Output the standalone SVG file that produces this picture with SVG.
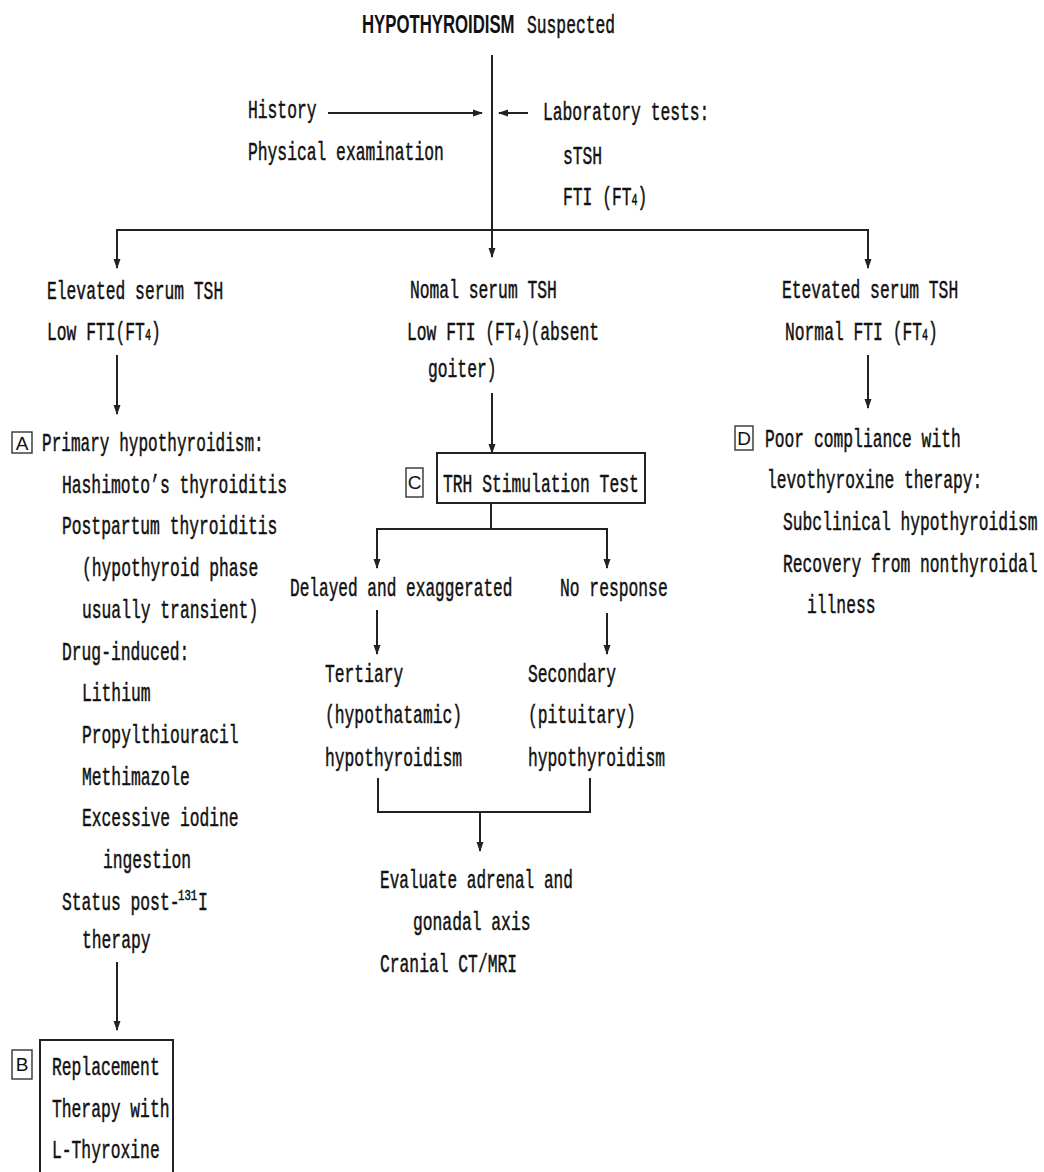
<svg xmlns="http://www.w3.org/2000/svg" width="1044" height="1172" viewBox="0 0 1044 1172">
  <style>
    .t { font-family: "Liberation Mono", "DejaVu Sans Mono", monospace; font-size: 26px; fill: #111; stroke: #111; stroke-width: 0.5; }
    .h { font-family: "Liberation Sans", Arial, sans-serif; font-weight: bold; font-size: 25px; fill: #111; }
    .lbl { font-family: "Liberation Sans", Arial, sans-serif; font-size: 19px; fill: #111; text-anchor: middle; }
    .sub { font-size: 16px; }
    .sup { font-size: 14px; }
    .box { fill: none; stroke: #222; stroke-width: 2; }
    .lbox { fill: none; stroke: #333; stroke-width: 1.4; }
    .ln { fill: none; stroke: #222; stroke-width: 2; }
    .ar { fill: none; stroke: #222; stroke-width: 2; marker-end: url(#head); }
  </style>
  <defs>
    <marker id="head" markerUnits="userSpaceOnUse" markerWidth="10" markerHeight="12" viewBox="0 0 10 12" refX="9" refY="6" orient="auto">
      <path d="M0,2.5 L10,6 L0,9.5 Z" fill="#222"/>
    </marker>
  </defs>
  <rect width="1044" height="1172" fill="#fff"/>

  <!-- connectors -->
  <g id="connectors">
    <line class="ln" x1="492" y1="55" x2="492" y2="230"/>
    <line class="ln" x1="116" y1="230" x2="869" y2="230"/>
    <line class="ar" x1="117" y1="230" x2="117" y2="268"/>
    <line class="ar" x1="492" y1="230" x2="492" y2="257"/>
    <line class="ar" x1="868" y1="230" x2="868" y2="268"/>
    <line class="ar" x1="328" y1="113" x2="482" y2="113"/>
    <line class="ar" x1="528" y1="113" x2="499" y2="113"/>
    <line class="ar" x1="117" y1="355" x2="117" y2="414"/>
    <line class="ar" x1="492" y1="393" x2="492" y2="453"/>
    <line class="ar" x1="868" y1="355" x2="868" y2="408"/>
    <line class="ln" x1="491" y1="503" x2="491" y2="529"/>
    <line class="ln" x1="376" y1="529" x2="608" y2="529"/>
    <line class="ar" x1="377" y1="529" x2="377" y2="568"/>
    <line class="ar" x1="607" y1="529" x2="607" y2="568"/>
    <line class="ar" x1="377" y1="610" x2="377" y2="654"/>
    <line class="ar" x1="607" y1="613" x2="607" y2="654"/>
    <polyline class="ln" points="378,778 378,812 590,812 590,778"/>
    <line class="ar" x1="480" y1="812" x2="480" y2="851"/>
    <line class="ar" x1="117" y1="962" x2="117" y2="1030"/>
  </g>

  <!-- title -->
  <g id="title">
    <text class="h" transform="translate(362 33) scale(0.67 1)">HYPOTHYROIDISM</text>
    <text class="t" transform="translate(527 33) scale(0.628 1)">Suspected</text>
  </g>

  <g id="history">
    <text class="t" transform="translate(248 118) scale(0.628 1)">History</text>
    <text class="t" transform="translate(248 160) scale(0.628 1)">Physical examination</text>
  </g>

  <g id="lab-tests">
    <text class="t" transform="translate(543 120) scale(0.628 1)">Laboratory tests:</text>
    <text class="t" transform="translate(563 164) scale(0.628 1)">sTSH</text>
    <text class="t" transform="translate(563 205) scale(0.628 1)">FTI (FT<tspan class="sub">4</tspan>)</text>
  </g>

  <g id="elevated-low">
    <text class="t" transform="translate(47 299) scale(0.628 1)">Elevated serum TSH</text>
    <text class="t" transform="translate(47 340) scale(0.628 1)">Low FTI(FT<tspan class="sub">4</tspan>)</text>
  </g>

  <g id="normal-low">
    <text class="t" transform="translate(410 298) scale(0.628 1)">Nomal serum TSH</text>
    <text class="t" transform="translate(407 340) scale(0.628 1)">Low FTI (FT<tspan class="sub">4</tspan>)(absent</text>
    <text class="t" transform="translate(428 377) scale(0.628 1)">goiter)</text>
  </g>

  <g id="elevated-normal">
    <text class="t" transform="translate(782 298) scale(0.628 1)">Etevated serum TSH</text>
    <text class="t" transform="translate(785 340) scale(0.628 1)">Normal FTI (FT<tspan class="sub">4</tspan>)</text>
  </g>

  <g id="primary">
    <rect class="lbox" x="12" y="432" width="20" height="21"/>
    <text class="lbl" x="22" y="450">A</text>
    <text class="t" transform="translate(42 451) scale(0.618 1)">Primary hypothyroidism:</text>
    <text class="t" transform="translate(62 493) scale(0.628 1)">Hashimoto’s thyroiditis</text>
    <text class="t" transform="translate(62 534) scale(0.628 1)">Postpartum thyroiditis</text>
    <text class="t" transform="translate(82 576) scale(0.628 1)">(hypothyroid phase</text>
    <text class="t" transform="translate(82 618) scale(0.628 1)">usually transient)</text>
    <text class="t" transform="translate(62 660) scale(0.628 1)">Drug-induced:</text>
    <text class="t" transform="translate(82 701) scale(0.628 1)">Lithium</text>
    <text class="t" transform="translate(82 743) scale(0.628 1)">Propylthiouracil</text>
    <text class="t" transform="translate(82 785) scale(0.628 1)">Methimazole</text>
    <text class="t" transform="translate(82 826) scale(0.628 1)">Excessive iodine</text>
    <text class="t" transform="translate(103 868) scale(0.628 1)">ingestion</text>
    <text class="t" transform="translate(62 910) scale(0.628 1)">Status post-</text>
    <text class="t sup" transform="translate(178 900) scale(0.76 1)">131</text>
    <text class="t" transform="translate(198 910) scale(0.628 1)">I</text>
    <text class="t" transform="translate(82 948) scale(0.628 1)">therapy</text>
  </g>

  <g id="replacement">
    <rect class="lbox" x="12" y="1050" width="20" height="29"/>
    <text class="lbl" x="22" y="1071">B</text>
    <rect class="box" x="40" y="1040" width="133" height="150"/>
    <text class="t" transform="translate(52 1075) scale(0.628 1)">Replacement</text>
    <text class="t" transform="translate(52 1117) scale(0.628 1)">Therapy with</text>
    <text class="t" transform="translate(52 1158) scale(0.628 1)">L-Thyroxine</text>
  </g>

  <g id="trh-test">
    <rect class="lbox" x="406" y="468" width="17" height="29"/>
    <text class="lbl" x="414.5" y="489">C</text>
    <rect class="box" x="437" y="453" width="208" height="50"/>
    <text class="t" transform="translate(443 492) scale(0.628 1)">TRH Stimulation Test</text>
  </g>

  <g id="delayed">
    <text class="t" transform="translate(290 596) scale(0.62 1)">Delayed and exaggerated</text>
  </g>

  <g id="no-response">
    <text class="t" transform="translate(560 596) scale(0.628 1)">No response</text>
  </g>

  <g id="tertiary">
    <text class="t" transform="translate(325 682) scale(0.628 1)">Tertiary</text>
    <text class="t" transform="translate(325 723) scale(0.628 1)">(hypothatamic)</text>
    <text class="t" transform="translate(325 766) scale(0.628 1)">hypothyroidism</text>
  </g>

  <g id="secondary">
    <text class="t" transform="translate(528 682) scale(0.628 1)">Secondary</text>
    <text class="t" transform="translate(528 723) scale(0.628 1)">(pituitary)</text>
    <text class="t" transform="translate(528 766) scale(0.628 1)">hypothyroidism</text>
  </g>

  <g id="evaluate">
    <text class="t" transform="translate(380 888) scale(0.618 1)">Evaluate adrenal and</text>
    <text class="t" transform="translate(413 930) scale(0.628 1)">gonadal axis</text>
    <text class="t" transform="translate(380 972) scale(0.628 1)">Cranial CT/MRI</text>
  </g>

  <g id="compliance">
    <rect class="lbox" x="735" y="426" width="18" height="24"/>
    <text class="lbl" x="744" y="445">D</text>
    <text class="t" transform="translate(765 447) scale(0.628 1)">Poor compliance with</text>
    <text class="t" transform="translate(767 488) scale(0.628 1)">levothyroxine therapy:</text>
    <text class="t" transform="translate(783 530) scale(0.628 1)">Subclinical hypothyroidism</text>
    <text class="t" transform="translate(783 572) scale(0.628 1)">Recovery from nonthyroidal</text>
    <text class="t" transform="translate(807 613) scale(0.628 1)">illness</text>
  </g>
</svg>
